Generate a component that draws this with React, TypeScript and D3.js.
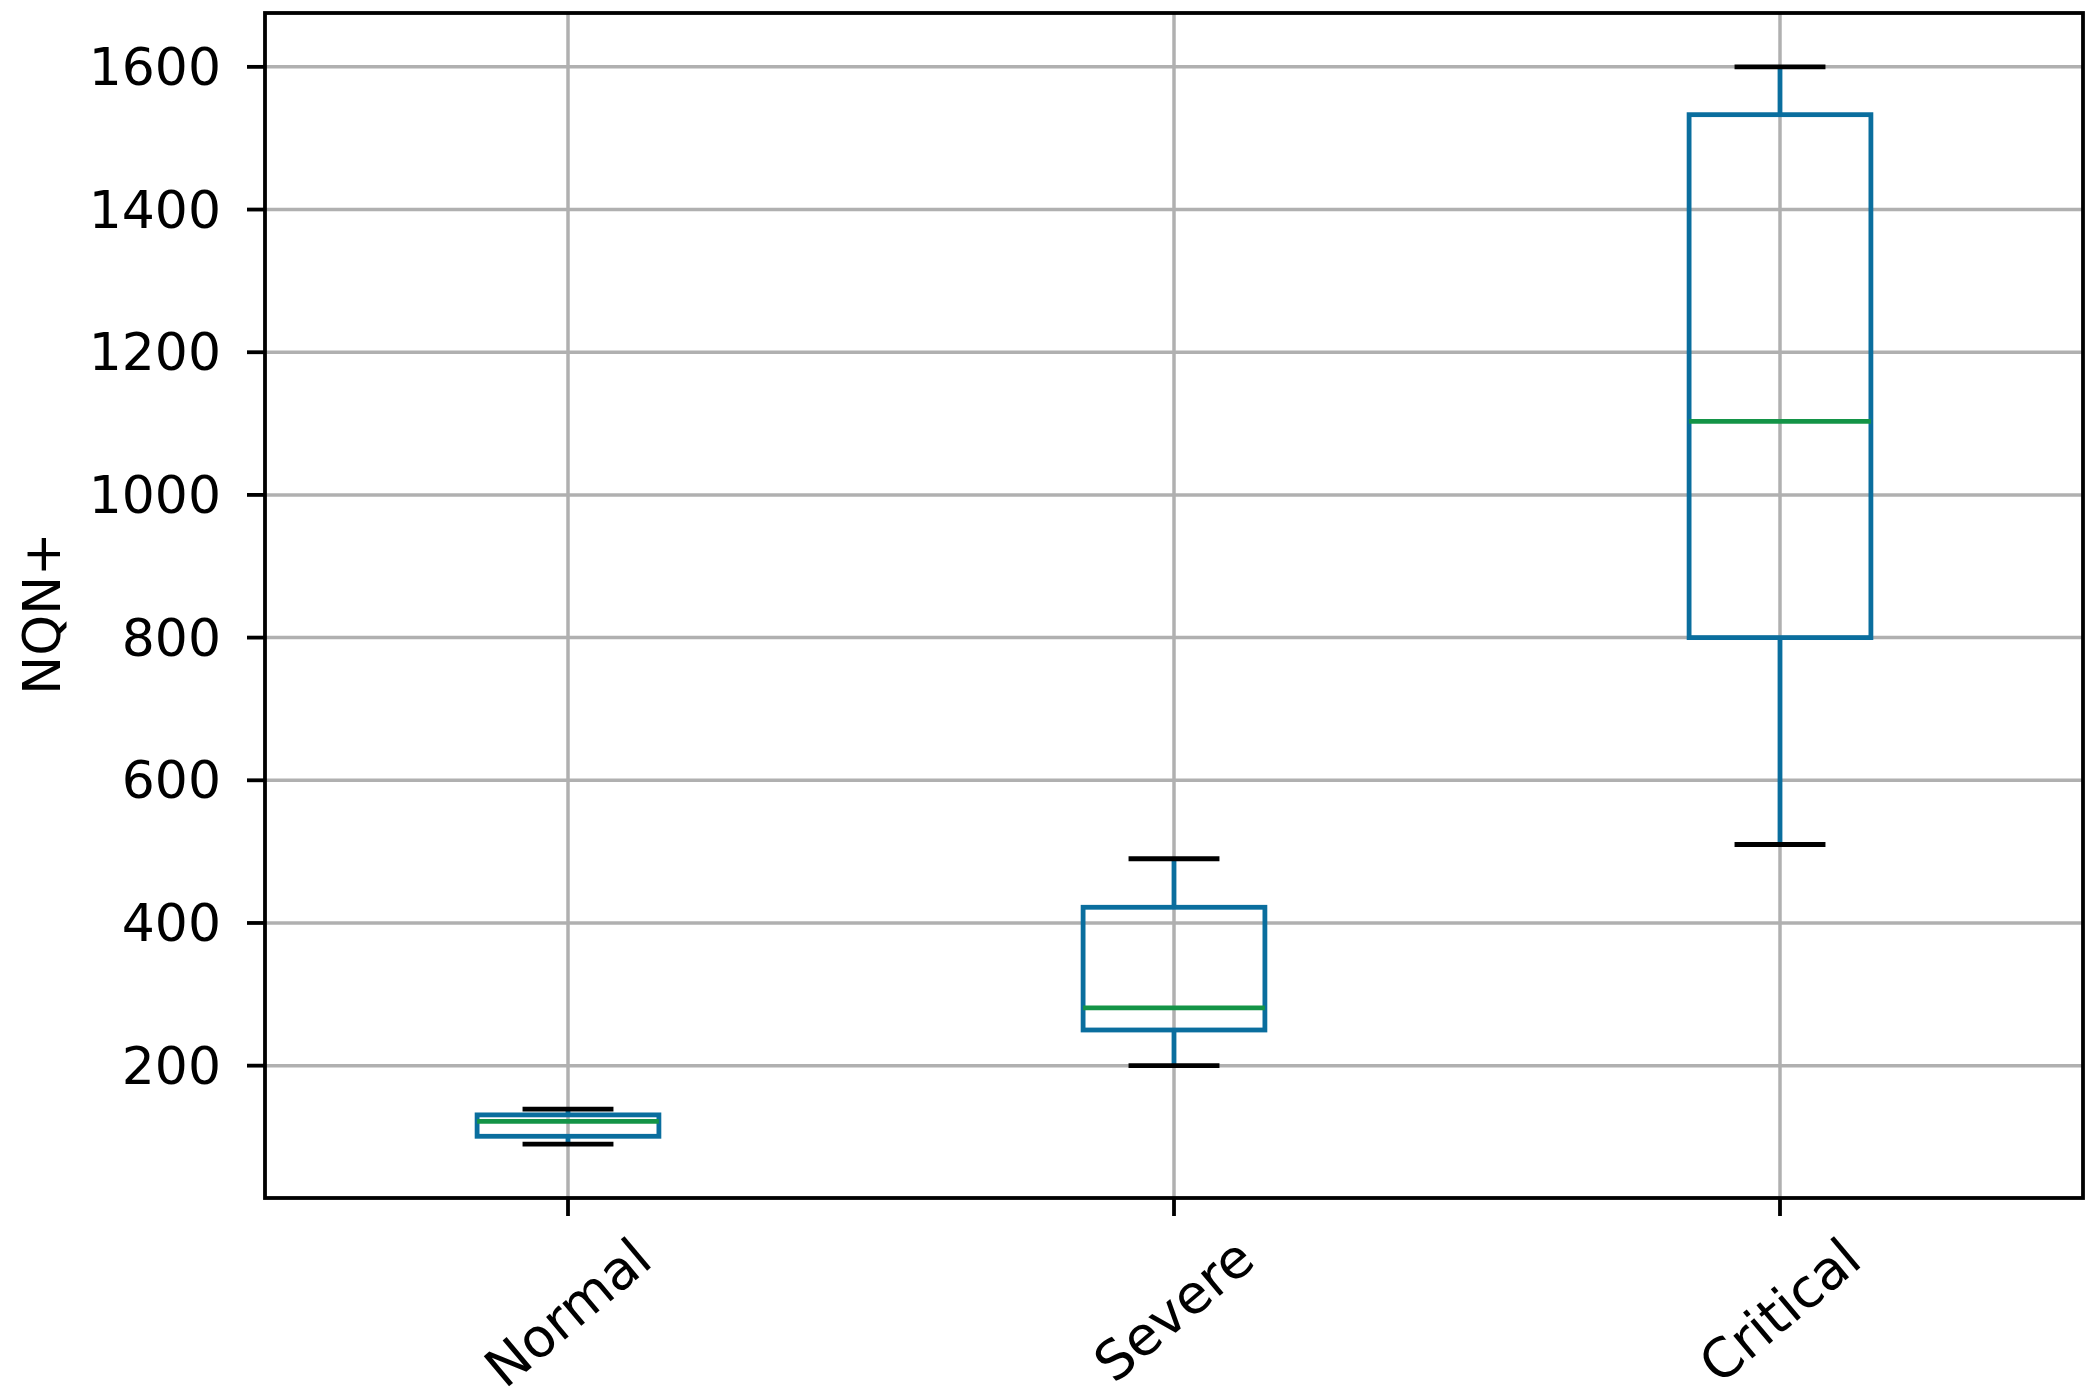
import React from "react";
import * as d3 from "d3";

const categories = ["Normal", "Severe", "Critical"];
const whiskerLow = [90, 200, 510];
const q1 = [101, 250, 800];
const medians = [122, 281, 1103];
const q3 = [131, 422, 1533];
const whiskerHigh = [139, 490, 1600];
const yTicks = [200, 400, 600, 800, 1000, 1200, 1400, 1600];
const yLabel = "NQN+";

const W = 2095;
const H = 1397;
const plot = { left: 265, right: 2083, top: 13, bottom: 1198 };
const FONT = "'DejaVu Sans', sans-serif";
const FS = 52;
const XFS = 54;
const BLUE = "#0a6e9e";
const GREEN = "#149447";
const GRID = "#b0b0b0";
const LW = 4.8;

function measure(text: string, fs: number): number {
  if (typeof document === "undefined") return text.length * fs * 0.6;
  const c = document.createElement("canvas");
  const ctx = c.getContext("2d");
  if (!ctx) return text.length * fs * 0.6;
  ctx.font = `${fs}px 'DejaVu Sans'`;
  return ctx.measureText(text).width;
}

export default function App() {
  const lo = d3.min(whiskerLow)!;
  const hi = d3.max(whiskerHigh)!;
  const pad = (hi - lo) * 0.05;
  const y = d3.scaleLinear().domain([lo - pad, hi + pad]).range([plot.bottom, plot.top]);
  const x = d3
    .scaleLinear()
    .domain([0.5, categories.length + 0.5])
    .range([plot.left, plot.right]);
  const boxW = x(1.3) - x(1);
  const capW = x(1.15) - x(1);
  const ang = (40 * Math.PI) / 180;
  const labelTop = 1226;
  const yMid = (plot.top + plot.bottom) / 2 + 8;

  return (
    <svg
      width={W}
      height={H}
      style={{ position: "absolute", left: 0, top: 0, background: "#fff" }}
      fontFamily={FONT}
    >
      <rect x={0} y={0} width={W} height={H} fill="#fff" />
      {/* grid */}
      {yTicks.map((t) => (
        <line key={"gy" + t} x1={plot.left} x2={plot.right} y1={y(t)} y2={y(t)} stroke={GRID} strokeWidth={3.5} />
      ))}
      {categories.map((c, i) => (
        <line key={"gx" + c} x1={x(i + 1)} x2={x(i + 1)} y1={plot.top} y2={plot.bottom} stroke={GRID} strokeWidth={3.5} />
      ))}
      {/* boxes */}
      {categories.map((c, i) => {
        const cx = x(i + 1);
        return (
          <g key={"b" + c}>
            <line x1={cx} x2={cx} y1={y(q1[i])} y2={y(whiskerLow[i])} stroke={BLUE} strokeWidth={LW} />
            <line x1={cx} x2={cx} y1={y(q3[i])} y2={y(whiskerHigh[i])} stroke={BLUE} strokeWidth={LW} />
            <line x1={cx - capW / 2} x2={cx + capW / 2} y1={y(whiskerLow[i])} y2={y(whiskerLow[i])} stroke="#000" strokeWidth={LW} />
            <line x1={cx - capW / 2} x2={cx + capW / 2} y1={y(whiskerHigh[i])} y2={y(whiskerHigh[i])} stroke="#000" strokeWidth={LW} />
            <rect
              x={cx - boxW / 2}
              y={y(q3[i])}
              width={boxW}
              height={y(q1[i]) - y(q3[i])}
              fill="none"
              stroke={BLUE}
              strokeWidth={LW}
            />
            <line x1={cx - boxW / 2} x2={cx + boxW / 2} y1={y(medians[i])} y2={y(medians[i])} stroke={GREEN} strokeWidth={LW} />
          </g>
        );
      })}
      {/* spines */}
      <rect
        x={plot.left}
        y={plot.top}
        width={plot.right - plot.left}
        height={plot.bottom - plot.top}
        fill="none"
        stroke="#000"
        strokeWidth={3.8}
      />
      {/* y ticks */}
      {yTicks.map((t) => (
        <g key={"yt" + t}>
          <line x1={plot.left - 18} x2={plot.left} y1={y(t)} y2={y(t)} stroke="#000" strokeWidth={3.8} />
          <text x={plot.left - 44} y={y(t)} textAnchor="end" dominantBaseline="central" fontSize={FS} fill="#000">
            {t}
          </text>
        </g>
      ))}
      {/* x ticks */}
      {categories.map((c, i) => {
        const cx = x(i + 1);
        const w = measure(c, XFS);
        const hBox = XFS * 1.164;
        const Hb = w * Math.sin(ang) + hBox * Math.cos(ang);
        const cy = labelTop + Hb / 2;
        return (
          <g key={"xt" + c}>
            <line x1={cx} x2={cx} y1={plot.bottom} y2={plot.bottom + 18} stroke="#000" strokeWidth={3.8} />
            <text
              x={cx}
              y={cy}
              textAnchor="middle"
              dominantBaseline="central"
              fontSize={XFS}
              fill="#000"
              transform={`rotate(-40 ${cx} ${cy})`}
            >
              {c}
            </text>
          </g>
        );
      })}
      {/* y label */}
      <text
        x={60}
        y={yMid}
        textAnchor="middle"
        fontSize={FS}
        fill="#000"
        transform={`rotate(-90 60 ${yMid})`}
      >
        {yLabel}
      </text>
    </svg>
  );
}
